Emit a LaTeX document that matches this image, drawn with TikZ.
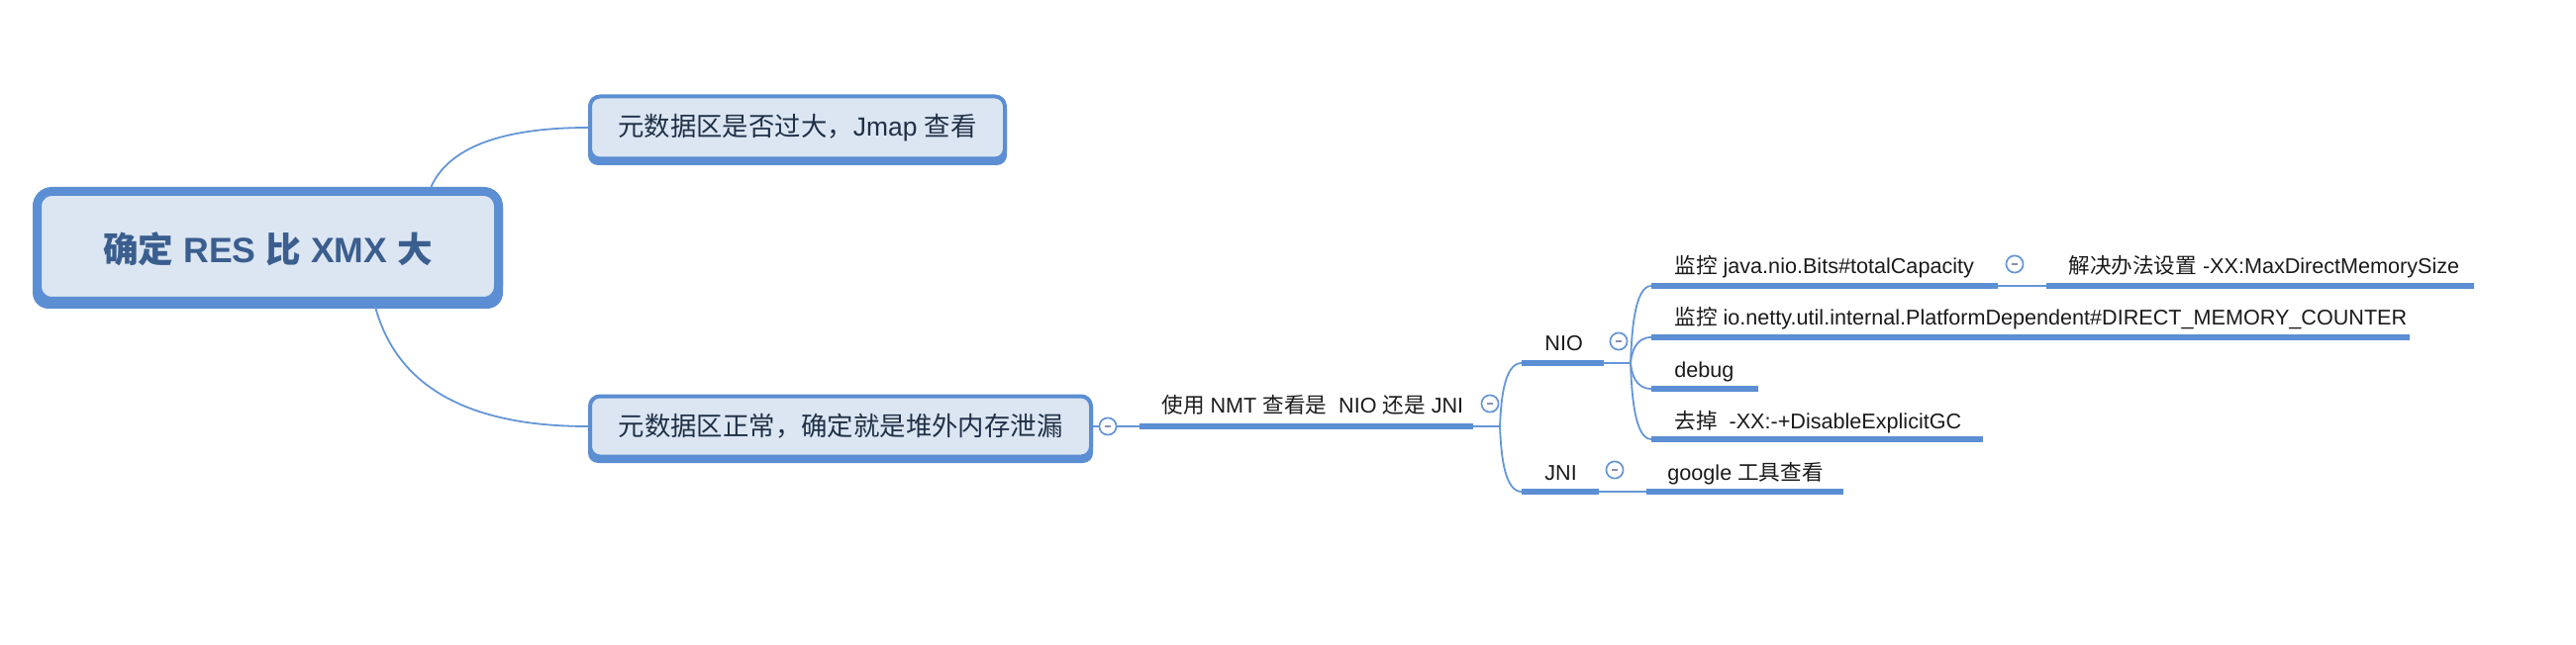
\documentclass[tikz,border=0pt]{standalone}
\usepackage{fontspec}
\setmainfont{Liberation Sans}
\newfontfamily\cjk{Noto Sans CJK SC}
\definecolor{bl}{HTML}{5B8ED3}
\definecolor{fillb}{HTML}{DCE6F2}
\definecolor{roottext}{HTML}{3A5E8E}
\definecolor{boxtext}{HTML}{1F3047}
\definecolor{leaf}{HTML}{1A1A1A}
\definecolor{conn}{HTML}{6496D6}
\definecolor{minus}{HTML}{8C8FB0}
\pgfdeclarelayer{bg}
\pgfsetlayers{bg,main}
\begin{document}
\begin{tikzpicture}[x=0.5pt,y=-0.5pt,
  lbl/.style={anchor=west, inner sep=0pt, text height=8.2pt, text depth=0pt,
    font=\fontsize{10.8}{12}\selectfont, text=leaf},
  uline/.style={draw=bl, line width=2.75pt},
  connl/.style={draw=conn, line width=0.9pt},
  fold/.style={circle, draw=conn, fill=white, line width=0.85pt, minimum size=8.6pt, inner sep=0pt,
    path picture={\draw[minus, line width=0.7pt] ([xshift=-1.5pt]path picture bounding box.center) -- ([xshift=1.5pt]path picture bounding box.center);}},
  topic/.style={draw=bl, fill=fillb, line width=2pt, rounded corners=5pt, inner sep=0pt,
    font=\fontsize{13.2}{15}\selectfont, text=boxtext},
]
\useasboundingbox (0,0) rectangle (2602,652);

% main topics
\node[draw=bl, fill=fillb, line width=4.5pt, rounded corners=7.5pt, inner sep=0pt,
  minimum width=233pt, minimum height=55.5pt, text height=16.5pt, text depth=0pt,
  font=\bfseries\fontsize{17.8}{20}\selectfont, text=roottext] (root) at (270.5,249)
  {{\cjk 确定} RES {\cjk 比} XMX {\cjk 大}};
\node[topic, minimum width=209.5pt, minimum height=31.5pt] (box1) at (805.5,129)
  {{\cjk 元数据区是否过大，}Jmap {\cjk 查看}};
\node[topic, minimum width=253pt, minimum height=30.5pt] (box2) at (849,431)
  {{\cjk 元数据区正常，确定就是堆外内存泄漏}};

\begin{pgfonlayer}{bg}
  \fill[bl, rounded corners=8pt] (33,194) rectangle (508,312);
  \fill[bl, rounded corners=5pt] (594,100) rectangle (1017,167);
  \fill[bl, rounded corners=5pt] (594,402) rectangle (1104,468);
  \draw[connl] (root.20) .. controls +(20,-45) and +(-75,0) .. (box1.west);
  \draw[connl] (root.-29) .. controls +(25,95) and +(-100,0) .. (box2.west);
\end{pgfonlayer}

% underline and junction coordinates
\coordinate (nmtA) at (1151,431);  \coordinate (nmtB) at (1488,431);  \coordinate (j1) at (1515,431);
\coordinate (nioA) at (1537,367);  \coordinate (nioB) at (1620,367);  \coordinate (j2) at (1647,367);
\coordinate (jniA) at (1537,497);  \coordinate (jniB) at (1615,497);
\coordinate (gooA) at (1663,497);  \coordinate (gooB) at (1862,497);
\coordinate (javA) at (1668,289);  \coordinate (javB) at (2018,289);
\coordinate (solA) at (2067,289);  \coordinate (solB) at (2499,289);
\coordinate (netA) at (1668,341);  \coordinate (netB) at (2434,341);
\coordinate (dbgA) at (1668,393);  \coordinate (dbgB) at (1776,393);
\coordinate (gcA)  at (1668,444);  \coordinate (gcB)  at (2003,444);

% labels
\node[lbl] (nmt) at (1173,409) {{\cjk 使用} NMT {\cjk 查看是}\ \ NIO {\cjk 还是} JNI};
\node[lbl] (nio) at (1560,346) {NIO};
\node[lbl] (jni) at (1560,477) {JNI};
\node[lbl] (goo) at (1684,477) {google {\cjk 工具查看}};
\node[lbl] (jav) at (1691,268) {{\cjk 监控} java.nio.Bits\#totalCapacity};
\node[lbl] (sol) at (2089,268) {{\cjk 解决办法设置} -XX:MaxDirectMemorySize};
\node[lbl] (net) at (1691,320) {{\cjk 监控} io.netty.util.internal.PlatformDependent\#DIRECT\_MEMORY\_COUNTER};
\node[lbl] (dbg) at (1691,373) {debug};
\node[lbl] (gc)  at (1691,425) {{\cjk 去掉}\ \ -XX:-+DisableExplicitGC};

% connectors
\node[fold] (f1) at (1119,431) {};
\draw[connl] (box2.east) -- (f1.west);
\draw[connl] (f1.east) -- (nmtA);
\draw[connl] (nmtB) -- (j1);
\draw[connl] (j1) .. controls +(1,-21) and +(-19,0) .. (nioA);
\draw[connl] (j1) .. controls +(1,21) and +(-19,0) .. (jniA);
\draw[connl] (nioB) -- (j2);
\draw[connl] (j2) .. controls +(1,-25) and +(-18,0) .. (javA);
\draw[connl] (j2) .. controls +(1,-9) and +(-17,0) .. (netA);
\draw[connl] (j2) .. controls +(1,9) and +(-17,0) .. (dbgA);
\draw[connl] (j2) .. controls +(1,25) and +(-18,0) .. (gcA);
\draw[connl] (jniB) -- (gooA);
\draw[connl] (javB) -- (solA);

% underlines
\foreach \a/\b in {nmtA/nmtB, nioA/nioB, jniA/jniB, gooA/gooB, javA/javB, solA/solB, netA/netB, dbgA/dbgB, gcA/gcB}
  \draw[uline] (\a) -- (\b);

% fold markers
\node[fold] (f2) at (1505,408) {};
\node[fold] (f3) at (1635,345) {};
\node[fold] (f4) at (1631,475) {};
\node[fold] (f5) at (2035,267) {};
\end{tikzpicture}
\end{document}
